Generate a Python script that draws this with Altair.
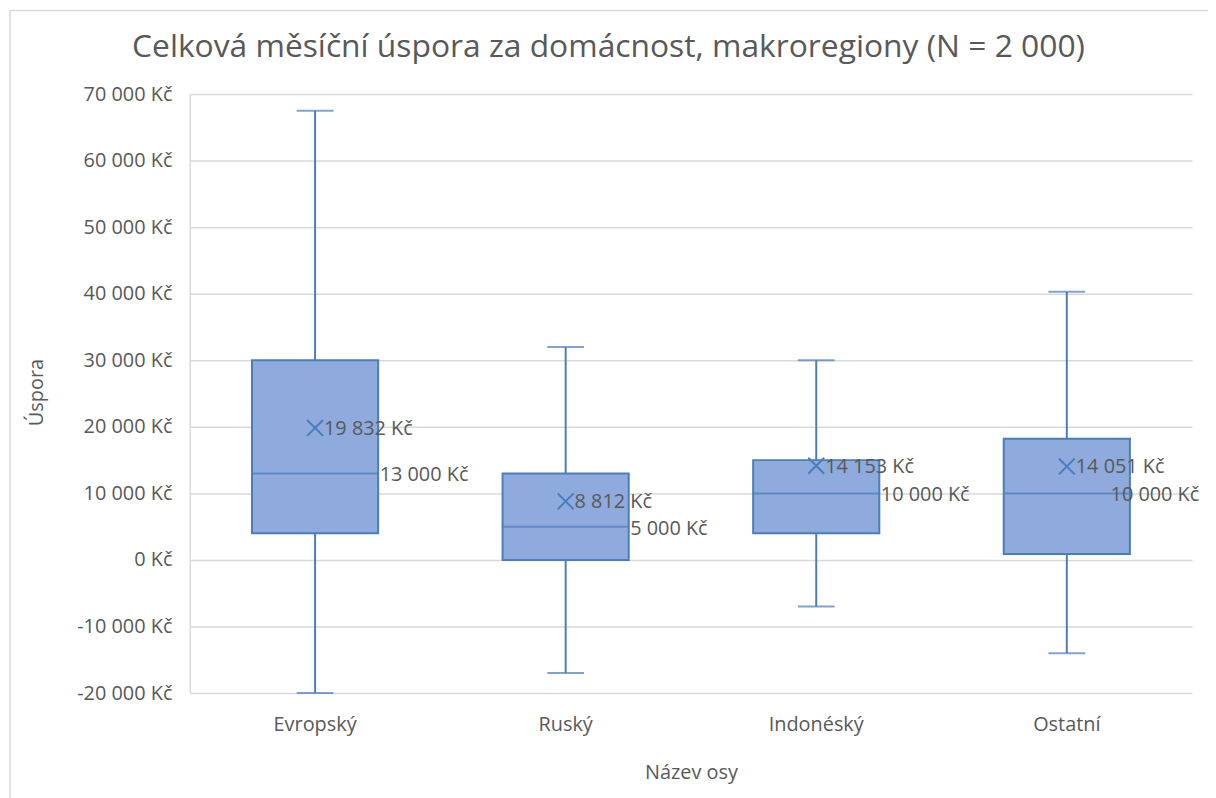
import altair as alt
import pandas as pd

categories = ["Evropský", "Ruský", "Indonéský", "Ostatní"]
mins = [-20000, -17000, -7000, -14000]
q1s = [4000, 0, 4000, 900]
medians = [13000, 5000, 10000, 10000]
q3s = [30000, 13000, 15000, 18200]
maxs = [67500, 32000, 30000, 40300]
means = [19832, 8812, 14153, 14051]
y_ticks = list(range(-20000, 70001, 10000))

TITLE = "Celková měsíční úspora za domácnost, makroregiony (N = 2 000)"
FONT = "Open Sans"
TXT = "#595959"
FILL = "#8FAADC"
STROKE = "#4A7EBB"
GRID = "#D9D9D9"


def kc(v):
    return f"{v:,}".replace(",", " ") + " Kč"


df = pd.DataFrame({
    "cat": categories,
    "mn": mins,
    "q1": q1s,
    "med": medians,
    "q3": q3s,
    "mx": maxs,
    "mean": means,
})
df["mean_label"] = [kc(v) for v in means]
df["med_label"] = [kc(v) for v in medians]

yscale = alt.Scale(domain=[-20000, 70000], nice=False, zero=False)
label_expr = "replace(replace(format(datum.value, ','), ',', ' '), '\u2212', '-') + ' Kč'"

xenc = alt.X(
    "cat:N", sort=categories,
    scale=alt.Scale(paddingInner=0, paddingOuter=0),
    axis=alt.Axis(title="Název osy", labelAngle=0, ticks=False, tickSize=0, domain=False,
                  labelPadding=22, labelFontSize=20, labelColor=TXT, labelFont=FONT,
                  titleFontSize=20, titleColor=TXT, titleFont=FONT, titleFontWeight="normal",
                  titleY=80, titleBaseline="middle", grid=False),
)

base = alt.Chart(df).encode(x=xenc)

yaxis = alt.Axis(
    title="Úspora", values=y_ticks, labelExpr=label_expr, ticks=False, tickSize=0,
    labelPadding=18, labelFontSize=20, labelColor=TXT, labelFont=FONT,
    grid=True, gridColor=GRID, gridWidth=1.5, domain=True, domainColor=GRID, domainWidth=1.5,
    titleFontSize=20, titleColor=TXT, titleFont=FONT, titleFontWeight="normal",
    titleX=-154, titleY=300, titleBaseline="middle", titleAlign="center",
)


def yq(field):
    return alt.Y(f"{field}:Q", scale=yscale, axis=yaxis, title="Úspora")


lower = base.mark_rule(color=STROKE, strokeWidth=2).encode(y=yq("mn"), y2="q1:Q")
upper = base.mark_rule(color=STROKE, strokeWidth=2).encode(y=yq("q3"), y2="mx:Q")
cap_lo = base.mark_tick(color=STROKE, size=37, thickness=2, orient="horizontal").encode(y=yq("mn"))
cap_hi = base.mark_tick(color=STROKE, size=37, thickness=2, orient="horizontal").encode(y=yq("mx"))
box = base.mark_bar(size=127, fill=FILL, stroke=STROKE, strokeWidth=2).encode(y=yq("q1"), y2="q3:Q")
med = base.mark_tick(color=STROKE, size=127, thickness=2, orient="horizontal").encode(y=yq("med"))
mean_pt = base.mark_point(shape="M-1,-1L1,1M-1,1L1,-1", size=256, filled=False,
                          stroke=STROKE, strokeWidth=2, opacity=1).encode(y=yq("mean"))
mean_txt = base.mark_text(align="left", baseline="middle", dx=9, dy=1, fontSize=20,
                          font=FONT, color=TXT).encode(y=yq("mean"), text="mean_label:N")
med_txt = base.transform_filter(alt.datum.cat != "Ostatní").mark_text(
    align="left", baseline="middle", dx=65, dy=2, fontSize=20, font=FONT, color=TXT
).encode(y=yq("med"), text="med_label:N")
med_txt_last = base.transform_filter(alt.datum.cat == "Ostatní").mark_text(
    align="left", baseline="middle", dx=44, dy=2, fontSize=20, font=FONT, color=TXT
).encode(y=yq("med"), text="med_label:N")

frame_left = alt.Chart(pd.DataFrame({"f": [1]})).mark_rule(
    stroke=GRID, strokeWidth=1.5
).encode(x=alt.value(-181), y=alt.value(-84), y2=alt.value(720))
frame_top = alt.Chart(pd.DataFrame({"f": [1]})).mark_rule(
    stroke=GRID, strokeWidth=1.5
).encode(x=alt.value(-181), x2=alt.value(1100), y=alt.value(-84))

chart = alt.layer(
    frame_left, frame_top, lower, upper, cap_lo, cap_hi, box, med, mean_pt, mean_txt,
    med_txt, med_txt_last
).properties(
    width=1009, height=603,
    autosize=alt.AutoSizeParams(type="none"),
    padding={"left": 183, "top": 84, "right": 16, "bottom": 103},
    title=alt.TitleParams(TITLE, fontSize=32, font=FONT, color=TXT, fontWeight="normal",
                          anchor="middle", frame="group", dx=-83, offset=0,
                          baseline="alphabetic", dy=79),
).configure(background="white").configure_view(stroke=None)

chart.save("out.html", embed_options={"renderer": "svg", "actions": False})
